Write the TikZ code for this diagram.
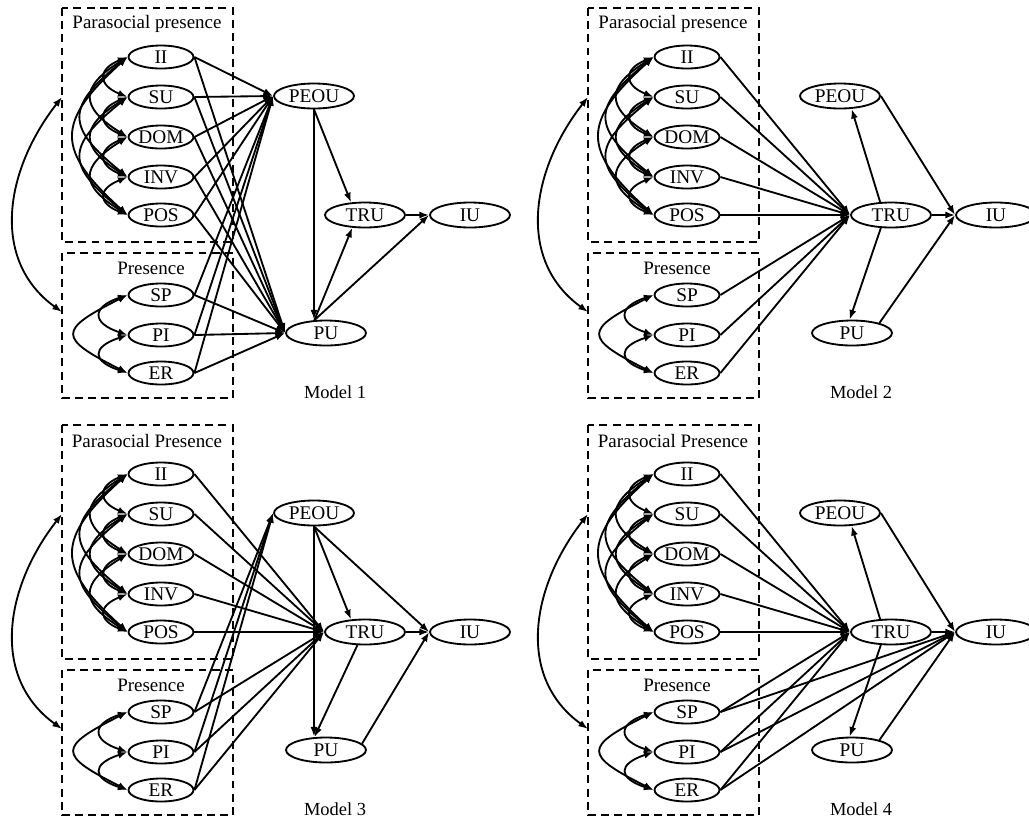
\documentclass[tikz,border=0pt]{standalone}
\usepackage{fontspec}
\setmainfont{Liberation Serif}
\usetikzlibrary{arrows.meta,shapes.geometric}
% boxes, constructs and correlations of one model: #1 prefix, #2 box title, #3 label
\newcommand{\panel}[3]{%
  \draw[dashbox] (62,8) rectangle (233,242);
  \draw[dashbox] (62,253) rectangle (233,398);
  \node[ttl] (#1-tp) at (147,24) {#2};
  \node[ttl] (#1-tr) at (151,268) {Presence};
  \foreach \n/\y in {II/57,SU/97,DOM/137,INV/177,POS/215,SP/295,PI/335,ER/373}
    {\node[obs] (#1-\n) at (161,\y) {\n};}
  \node[lat] (#1-PEOU) at (314,96) {PEOU};
  \node[lat] (#1-TRU) at (365,215) {TRU};
  \node[lat] (#1-IU) at (470,215) {IU};
  \node[lat] (#1-PU) at (326,333) {PU};
  \node[font=\fontsize{10.5}{12}\selectfont] (#1-lbl) at (335,392) {#3};
  \coordinate (#1-ca) at (62,97);
  \coordinate (#1-cb) at (62,312);
  \draw[covar] (#1-ca) .. controls (5,170) and (-10,260) .. (#1-cb);
  \foreach \p/\q/\hx/\vy in {II/SU/30/12,SU/DOM/30/12,DOM/INV/30/12,INV/POS/30/12,
      II/DOM/48/30,SU/INV/48/30,DOM/POS/48/30,II/INV/62/50,SU/POS/62/50,II/POS/72/65,
      SP/PI/36/12,PI/ER/36/12,SP/ER/70/35}
    {\draw[covar] (#1-\p.west) .. controls +(-\hx,\vy) and +(-\hx,-\vy) .. (#1-\q.west);}
}

\begin{document}
\begin{tikzpicture}[x=0.02cm,y=-0.02cm,line width=1.05pt,
    arr/.style={-{Latex[length=5.5pt,width=4pt]}},
    covar/.style={{Latex[length=5.5pt,width=4pt]}-{Latex[length=5.5pt,width=4pt]}},
    dashbox/.style={dash pattern=on 4.5pt off 3pt},
    ttl/.style={font=\fontsize{10.8}{12}\selectfont},
    obs/.style={draw,ellipse,fill=white,minimum width=1.3cm,minimum height=0.46cm,
      inner sep=0pt,font=\fontsize{11}{12}\selectfont},
    lat/.style={obs,minimum width=1.6cm,minimum height=0.5cm}]
  \useasboundingbox (0,0) rectangle (1029,823);
  % Model 1
  \panel{a}{Parasocial presence}{Model 1}
  \foreach \n in {II,SU,DOM,INV,POS,SP,PI,ER}
    {\draw[arr] (a-\n.east) -- (a-PEOU.west);
     \draw[arr] (a-\n.east) -- (a-PU.west);}
  \draw[arr] (a-PEOU.south) -- (a-PEOU.south |- a-PU.north);
  \draw[arr] (a-PEOU.south) -- (a-TRU.138);
  \draw[arr] (a-PU.132) -- (a-TRU.225);
  \draw[arr] (a-PU.132) -- (a-IU.west);
  \draw[arr] (a-TRU) -- (a-IU);
  % Model 2
  \begin{scope}[shift={(526,0)}]
    \panel{b}{Parasocial presence}{Model 2}
    \foreach \n in {II,SU,DOM,INV,POS,SP,PI,ER}
      {\draw[arr] (b-\n.east) -- (b-TRU.west);}
    \draw[arr] (b-TRU.130) -- (b-PEOU.312);
    \draw[arr] (b-TRU.232) -- (b-PU.100);
    \draw[arr] (b-PEOU.east) -- (b-IU.west);
    \draw[arr] (b-PU.20) -- (b-IU.west);
    \draw[arr] (b-TRU) -- (b-IU);
  \end{scope}
  % Model 3
  \begin{scope}[shift={(0,417)}]
    \panel{c}{Parasocial Presence}{Model 3}
    \foreach \n in {II,SU,DOM,INV,POS,SP,PI,ER}
      {\draw[arr] (c-\n.east) -- (c-TRU.west);}
    \foreach \n in {SP,PI,ER}
      {\draw[arr] (c-\n.east) -- (c-PEOU.west);}
    \draw[arr] (c-PEOU.south) -- (c-PEOU.south |- c-PU.north);
    \draw[arr] (c-PEOU.south) -- (c-TRU.138);
    \draw[arr] (c-PEOU.south) -- (c-IU.west);
    \draw[arr] (c-TRU.240) -- (c-PU.132);
    \draw[arr] (c-PU.10) -- (c-IU.west);
    \draw[arr] (c-TRU) -- (c-IU);
  \end{scope}
  % Model 4
  \begin{scope}[shift={(526,417)}]
    \panel{d}{Parasocial Presence}{Model 4}
    \foreach \n in {II,SU,DOM,INV,POS,SP,PI,ER}
      {\draw[arr] (d-\n.east) -- (d-TRU.west);}
    \foreach \n in {SP,PI,ER}
      {\draw[arr] (d-\n.east) -- (d-IU.west);}
    \draw[arr] (d-TRU.130) -- (d-PEOU.312);
    \draw[arr] (d-TRU.232) -- (d-PU.100);
    \draw[arr] (d-PEOU.east) -- (d-IU.west);
    \draw[arr] (d-PU.20) -- (d-IU.west);
    \draw[arr] (d-TRU) -- (d-IU);
  \end{scope}
\end{tikzpicture}
\end{document}
